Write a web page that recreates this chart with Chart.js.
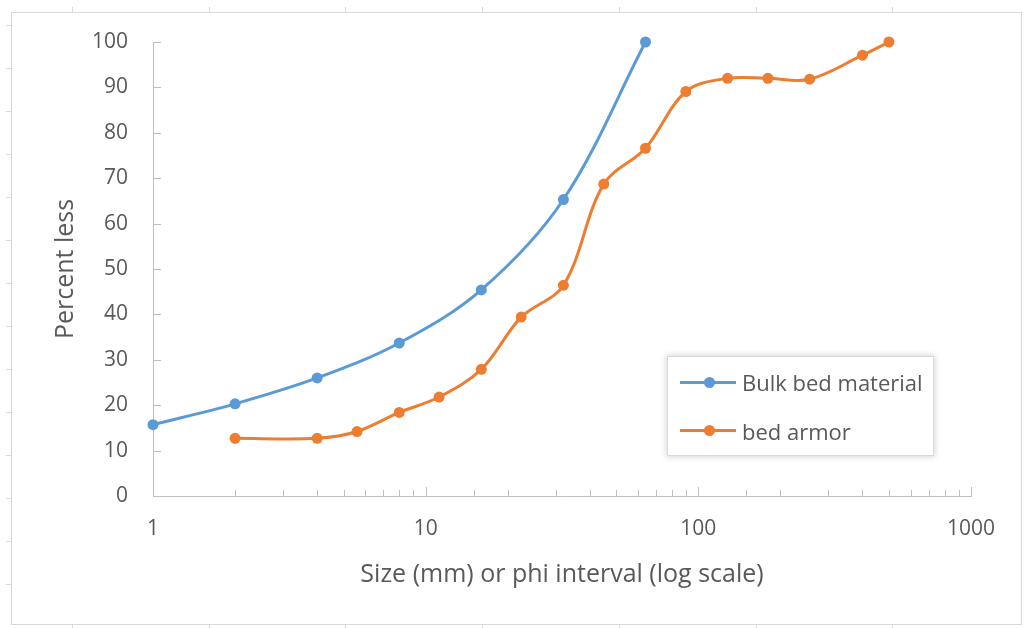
<!DOCTYPE html>
<html>
<head>
<meta charset="utf-8">
<script src="https://cdn.jsdelivr.net/npm/chart.js@4.4.1/dist/chart.umd.min.js"></script>
<style>
  html, body { margin:0; background:#fff; }
  #wrap { position:relative; width:1028px; height:628px; }
  #legend { position:absolute; left:667px; top:356px; width:267px; height:100px; box-sizing:border-box;
            background:#fff; border:1px solid #d9d9d9; box-shadow:0 0 6px 1px rgba(0,0,0,0.16);
            font-family:"Open Sans", Lato, sans-serif; font-size:22px; color:#595959; }
  .item   { position:absolute; left:12px; height:24px; display:flex; align-items:center; white-space:nowrap; }
  .swatch { position:relative; width:56px; height:24px; margin-right:6px; }
  .swatch i { position:absolute; left:0; right:0; top:10.5px; height:3px; }
  .swatch b { position:absolute; left:23.5px; top:6.5px; width:11px; height:11px; border-radius:50%; }
</style>
</head>
<body>
<div id="wrap">
  <canvas id="grain" width="1028" height="628"></canvas>
  <div id="legend"></div>
</div>
<script>
// ── Data ───────────────────────────────────────────────
const bulkSize  = [1, 2, 4, 8, 16, 32, 64];
const bulkPct   = [15.7, 20.3, 26, 33.7, 45.4, 65.3, 100];
const armorSize = [2, 4, 5.6, 8, 11.2, 16, 22.4, 32, 45, 64, 90, 128, 180, 256, 400, 500];
const armorPct  = [12.7, 12.7, 14.2, 18.4, 21.8, 27.9, 39.4, 46.4, 68.7, 76.6, 89.1, 92, 92, 91.8, 97.1, 100];
const seriesNames  = ["Bulk bed material", "bed armor"];
const seriesColors = ["#5B9BD5", "#ED7D31"];
const xRange = [1, 1000];
const yRange = [0, 100, 10];   // min, max, step

const FONT = "'Open Sans', Lato, sans-serif";
const TEXT = "#595959";
const AXIS = "#bfbfbf";

const toPoints = (xs, ys) => xs.map((x, i) => ({ x, y: ys[i] }));
const isDecade = v => Math.abs(Math.log10(v) - Math.round(Math.log10(v))) < 1e-9;

// ── Outer frame (worksheet border with ruler marks) ────
const framePlugin = {
  id: "frame",
  beforeDraw(chart) {
    const c = chart.ctx;
    c.save();
    c.fillStyle = "#fff";
    c.fillRect(0, 0, chart.width, chart.height);
    c.strokeStyle = "#d9d9d9";
    c.lineWidth = 1;
    c.strokeRect(11.5, 12.5, 1010, 612);
    c.beginPath();
    for (let x = 72; x < 1010; x += 136.7) {
      const px = Math.round(x) + 0.5;
      c.moveTo(px, 7); c.lineTo(px, 12);
      c.moveTo(px, 625); c.lineTo(px, 628);
    }
    for (let y = 25; y < 620; y += 43) {
      const py = Math.round(y) + 0.5;
      c.moveTo(6, py); c.lineTo(11, py);
    }
    c.stroke();
    c.restore();
  }
};

// ── Inside tick marks (Excel style) ────────────────────
const insideTicks = {
  id: "insideTicks",
  beforeDatasetsDraw(chart) {
    const c = chart.ctx, xs = chart.scales.x, ys = chart.scales.y;
    const a = chart.chartArea;
    c.save();
    c.strokeStyle = AXIS;
    c.lineWidth = 1;
    c.beginPath();
    xs.ticks.forEach(t => {
      const px = Math.round(xs.getPixelForValue(t.value)) + 0.5;
      const len = isDecade(t.value) ? 9 : 6;
      c.moveTo(px, a.bottom); c.lineTo(px, a.bottom - len);
    });
    ys.ticks.forEach(t => {
      const py = Math.round(ys.getPixelForValue(t.value)) + 0.5;
      c.moveTo(a.left, py); c.lineTo(a.left + 8, py);
    });
    c.stroke();
    c.restore();
  }
};

const chart = new Chart(document.getElementById("grain"), {
  type: "line",
  data: {
    datasets: [
      { label: seriesNames[0], data: toPoints(bulkSize, bulkPct) },
      { label: seriesNames[1], data: toPoints(armorSize, armorPct) },
    ].map((d, i) => Object.assign(d, {
      borderColor: seriesColors[i], backgroundColor: seriesColors[i],
      pointBackgroundColor: seriesColors[i], pointBorderColor: seriesColors[i],
      borderWidth: 3, pointRadius: 5.5, pointBorderWidth: 0, tension: 0.35, fill: false, clip: false,
    }))
  },
  options: {
    responsive: false, animation: false,
    layout: { padding: { top: 42, right: 57, bottom: 0, left: 0 } },
    plugins: { legend: { display: false }, tooltip: { enabled: false } },
    scales: {
      x: {
        type: "logarithmic", min: xRange[0], max: xRange[1],
        grid: { display: false, drawTicks: false },
        border: { display: true, color: AXIS, width: 1 },
        ticks: {
          autoSkip: false, maxRotation: 0, padding: 20, color: TEXT,
          font: { family: FONT, size: 21 },
          callback: v => isDecade(v) ? String(v) : ""
        },
        title: { display: true, text: "Size (mm) or phi interval (log scale)", color: TEXT,
                 font: { family: FONT, size: 25 }, padding: { top: 0, bottom: 38 } },
        afterFit: s => { s.height = 132; }
      },
      y: {
        min: yRange[0], max: yRange[1],
        grid: { display: false, drawTicks: false },
        border: { display: true, color: AXIS, width: 1 },
        ticks: { stepSize: yRange[2], padding: 25, color: TEXT, font: { family: FONT, size: 21 } },
        title: { display: true, text: "Percent less", color: TEXT,
                 font: { family: FONT, size: 25 }, padding: { top: 51, bottom: 0 } },
        afterFit: s => { s.width = 153; }
      }
    }
  },
  plugins: [framePlugin, insideTicks]
});

// ── Legend ─────────────────────────────────────────────
document.getElementById("legend").innerHTML = chart.data.datasets.map((d, i) =>
  `<div class="item" style="top:${13 + i * 48.6}px">
     <span class="swatch"><i style="background:${d.borderColor}"></i><b style="background:${d.borderColor}"></b></span>
     <span>${d.label}</span>
   </div>`).join("");
</script>
</body>
</html>
